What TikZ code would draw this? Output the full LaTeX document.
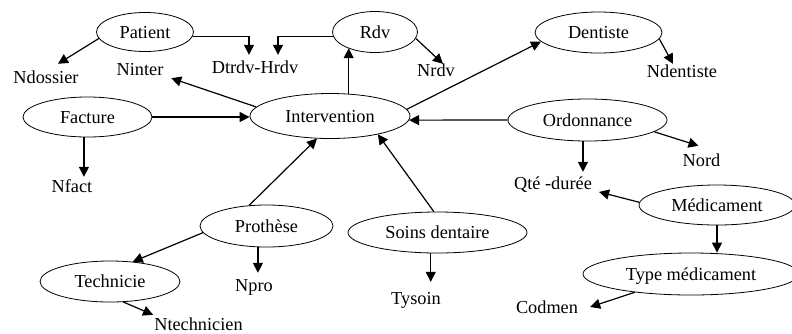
\documentclass[tikz,border=0pt]{standalone}
\usepackage{fontspec}
\setmainfont{Liberation Serif}
\usetikzlibrary{arrows.meta,shapes.geometric}

\begin{document}
\begin{tikzpicture}[x=1pt,y=-1pt,
      >={Triangle[length=10pt,width=10pt]},
      ent/.style={ellipse,draw=black,line width=0.8pt,inner sep=0pt,
        text height=12pt,text depth=0pt,
        font=\fontsize{18.3}{22}\selectfont},
      att/.style={inner sep=3pt,text height=12pt,text depth=0pt,
        font=\fontsize{18.3}{22}\selectfont},
      flow/.style={draw=black,line width=1.2pt,->}
    ]
    \useasboundingbox (0,0) rectangle (792,333);
    \clip (0,0) rectangle (792,333);
    \node[ent,minimum width=97pt,minimum height=39pt] (P) at (145,32) {Patient};
    \node[ent,minimum width=85pt,minimum height=41pt] (R) at (375,32) {Rdv};
    \node[ent,minimum width=127pt,minimum height=41pt] (D) at (598.5,32.5) {Dentiste};
    \node[ent,minimum width=129pt,minimum height=40pt] (F) at (87.5,117) {Facture};
    \node[ent,minimum width=160pt,minimum height=45pt] (I) at (330,116) {Intervention};
    \node[ent,minimum width=159pt,minimum height=42pt] (O) at (587.5,120) {Ordonnance};
    \node[ent,minimum width=133pt,minimum height=42pt] (Pr) at (266.5,226) {Prothèse};
    \node[ent,minimum width=140pt,minimum height=41pt] (T) at (110,281.5) {Technicie};
    \node[ent,minimum width=179pt,minimum height=41pt] (S) at (437.5,232.5) {Soins dentaire};
    \node[ent,minimum width=156pt,minimum height=40pt] (M) at (717,205) {Médicament};
    \node[ent,minimum width=216pt,minimum height=42pt] (TM) at (691,274) {Type médicament};
    \node[att] (Nd) at (46,77) {Ndossier};
    \node[att] (Ni) at (140,69) {Ninter};
    \node[att] (Dt) at (255,67) {Dtrdv-Hrdv};
    \node[att] (Nr) at (436,70) {Nrdv};
    \node[att] (Nde) at (682,71) {Ndentiste};
    \node[att] (No) at (701.5,160) {Nord};
    \node[att] (Nf) at (72,186) {Nfact};
    \node[att] (Q) at (553,183) {Qté -durée};
    \node[att] (Np) at (254,285) {Npro};
    \node[att] (Ty) at (416,298) {Tysoin};
    \node[att] (C) at (547,307) {Codmen};
    \node[att] (Nt) at (198.5,324) {Ntechnicien};
    \draw[flow] (P.188) -- ([xshift=12pt,yshift=4pt]Nd.north);
    \draw[flow,shorten >=3pt] (P.-5) -| ([xshift=-6pt]Dt.north);
    \draw[flow,shorten >=3pt] (R.186) -| ([xshift=23pt]Dt.north);
    \draw[flow] (I.50) -- (I.50 |- R.211);
    \draw[flow] (R.-9) -- ([xshift=7pt,yshift=-3pt]Nr.north);
    \draw[flow] (I.173) -- ([xshift=6pt]Ni.-20);
    \draw[flow] (F.east) -- (F.east -| I.west);
    \draw[flow] (F.260) -- (F.260 |- Nf.north);
    \draw[flow] (I.5) -- (D.189);
    \draw[flow] (D.-6) -- ([xshift=-9pt,yshift=-2pt]Nde.north);
    \draw[flow] (O.west) -- (I.-3);
    \draw[flow,shorten >=2pt] (O.258) -- (O.258 |- Q.north);
    \draw[flow] (O.-10) -- ([xshift=-3pt,yshift=5pt]No.north);
    \draw[flow] (Pr.130) -- (I.240);
    \draw[flow] (S.100) -- (I.-21);
    \draw[flow] (Pr.186) -- (T.41);
    \draw[flow,shorten >=3pt] (Pr.248) -- (Pr.248 |- Np.north);
    \draw[flow] (T.-57) -- ([xshift=2pt]Nt.north west);
    \draw[flow,shorten >=7pt] (S.252) -- (S.252 |- Ty.north);
    \draw[flow] (M.178) -- ([xshift=4pt]Q.-12);
    \draw[flow] (M.south) -- (M.south |- TM.north);
    \draw[flow] (TM.198) -- ([xshift=9pt]C.east);
  \end{tikzpicture}
\end{document}
